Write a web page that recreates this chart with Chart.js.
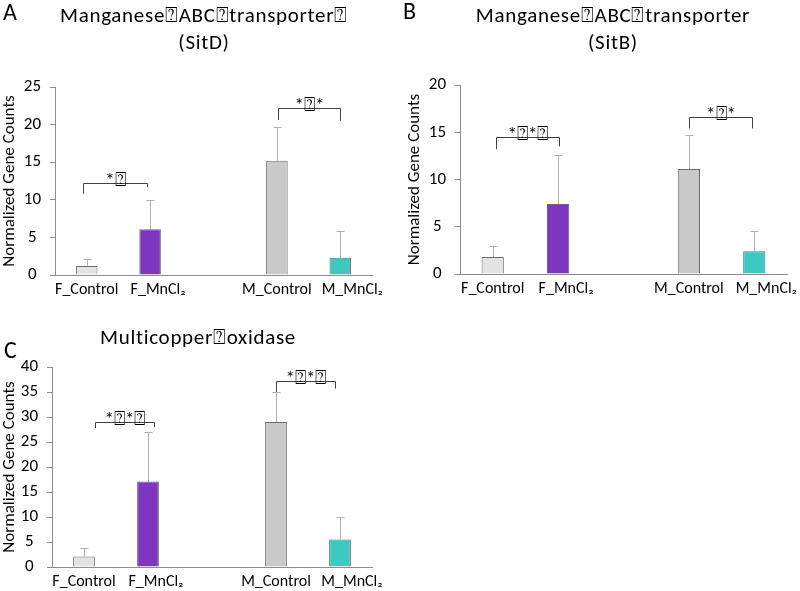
<!DOCTYPE html>
<html>
<head>
<meta charset="utf-8">
<script src="https://cdn.jsdelivr.net/npm/chart.js@4.4.1/dist/chart.umd.min.js"></script>
<style>
  body { margin: 0; background: #fff; }
  #wrap { position: relative; width: 800px; height: 591px; overflow: hidden; font-family: Carlito, Lato, sans-serif; color: #000; }
  canvas { position: absolute; left: 0; top: 0; }
  .letter { position: absolute; font-size: 24px; line-height: 1; }
  .title { position: absolute; font-size: 21px; letter-spacing: 0.7px; line-height: 27px; text-align: center; white-space: nowrap; transform: translateX(-50%); }
</style>
</head>
<body>
<div id="wrap">
  <canvas id="chartA" width="800" height="591"></canvas>
  <canvas id="chartB" width="800" height="591"></canvas>
  <canvas id="chartC" width="800" height="591"></canvas>
  <div class="letter" style="left:3px;top:0px">A</div>
  <div class="letter" style="left:403px;top:-1px">B</div>
  <div class="letter" style="left:4px;top:338px">C</div>
  <div class="title" style="left:204px;top:2px">Manganese⍰ABC⍰transporter⍰<br>(SitD)</div>
  <div class="title" style="left:613px;top:2px">Manganese⍰ABC⍰transporter<br>(SitB)</div>
  <div class="title" style="left:198px;top:324px">Multicopper⍰oxidase</div>
</div>
<script>
// shared categories (middle slot is the empty gap between sexes)
const categories = ['F_Control', 'F_MnCl₂', '', 'M_Control', 'M_MnCl₂'];
const barColors = ['#e3e3e3', '#7d36bd', 'rgba(0,0,0,0)', '#c9c9c9', '#3fc8c2'];

// A: SitD
const sitdValues = [1.2, 6.1, null, 15.2, 2.3];
const sitdErrors = [0.9, 3.9, null, 4.5, 3.5];
const sitdMax = 25;
const sitdStep = 5;
const sitdBracketFrom = [-0.06, 3.02];
const sitdBracketTo = [0.95, 4.0];
const sitdBracketLevel = [12.3, 22.2];
const sitdBracketLeft = [10.8, 20.6];
const sitdBracketRight = [11.7, 20.5];
const sitdBracketLabels = ['*⍰', '*⍰*'];

// B: SitB
const sitbValues = [1.8, 7.4, null, 11.1, 2.4];
const sitbErrors = [1.2, 5.2, null, 3.6, 2.2];
const sitbMax = 20;
const sitbStep = 5;
const sitbBracketFrom = [0.05, 3.0];
const sitbBracketTo = [1.02, 3.97];
const sitbBracketLevel = [14.5, 16.65];
const sitbBracketLeft = [13.2, 15.4];
const sitbBracketRight = [13.5, 15.4];
const sitbBracketLabels = ['*⍰*⍰', '*⍰*'];

// C: multicopper oxidase
const mcoValues = [2.1, 17.1, null, 29.0, 5.5];
const mcoErrors = [1.7, 9.9, null, 6.1, 4.6];
const mcoMax = 40;
const mcoStep = 5;
const mcoBracketFrom = [0.17, 3.0];
const mcoBracketTo = [1.09, 3.92];
const mcoBracketLevel = [29.1, 37.3];
const mcoBracketLeft = [27.8, 35.0];
const mcoBracketRight = [28.0, 35.7];
const mcoBracketLabels = ['*⍰*⍰', '*⍰*⍰'];

Chart.defaults.font.family = 'Carlito, Lato, sans-serif';
Chart.defaults.color = '#000';

// the MnCl2 labels sit a bit right of their bars in the original, nudge them with en spaces
const LABEL_INDENT = ['', '\u2002\u2002', '', '', '\u2002\u2002\u2002'];

function errorBarPlugin(values, errors) {
  return {
    id: 'errorBars',
    beforeDatasetsDraw(chart) {
      const ctx = chart.ctx;
      const yScale = chart.scales.y;
      const meta = chart.getDatasetMeta(0);
      ctx.save();
      ctx.strokeStyle = '#b0b0b0';
      ctx.lineWidth = 1;
      meta.data.forEach((bar, i) => {
        if (values[i] == null || errors[i] == null) return;
        const x = Math.round(bar.x) + 0.5;
        const y0 = yScale.getPixelForValue(values[i]);
        const y1 = Math.round(yScale.getPixelForValue(values[i] + errors[i])) + 0.5;
        ctx.beginPath();
        ctx.moveTo(x, y0);
        ctx.lineTo(x, y1);
        ctx.moveTo(x - 4, y1);
        ctx.lineTo(x + 4, y1);
        ctx.stroke();
      });
      ctx.restore();
    }
  };
}

function bracketPlugin(from, to, level, left, right, labels) {
  return {
    id: 'brackets',
    afterDatasetsDraw(chart) {
      const ctx = chart.ctx;
      const xs = chart.scales.x;
      const ys = chart.scales.y;
      ctx.save();
      ctx.strokeStyle = '#404040';
      ctx.lineWidth = 1;
      ctx.fillStyle = '#000';
      ctx.font = '19px Carlito, Lato, sans-serif';
      ctx.textAlign = 'center';
      ctx.textBaseline = 'alphabetic';
      labels.forEach((label, i) => {
        const xl = Math.round(xs.getPixelForValue(from[i])) + 0.5;
        const xr = Math.round(xs.getPixelForValue(to[i])) + 0.5;
        const yt = Math.round(ys.getPixelForValue(level[i])) + 0.5;
        ctx.beginPath();
        ctx.moveTo(xl, ys.getPixelForValue(left[i]));
        ctx.lineTo(xl, yt);
        ctx.lineTo(xr, yt);
        ctx.lineTo(xr, ys.getPixelForValue(right[i]));
        ctx.stroke();
        ctx.fillText(label, (xl + xr) / 2, yt + 2);
      });
      ctx.restore();
    }
  };
}

function makePanel(id, values, errors, max, step, padding, yWidth, xHeight, bracket) {
  return new Chart(document.getElementById(id), {
    type: 'bar',
    data: {
      labels: categories,
      datasets: [{
        data: values,
        backgroundColor: barColors,
        borderColor: '#6b6b6b',
        borderWidth: 1,
        barPercentage: 0.34,
        categoryPercentage: 1
      }]
    },
    options: {
      responsive: false,
      animation: false,
      events: [],
      layout: { padding: padding },
      plugins: {
        legend: { display: false },
        tooltip: { enabled: false }
      },
      scales: {
        x: {
          grid: { display: false },
          border: { color: '#8c8c8c' },
          ticks: {
            font: { size: 16 },
            padding: -3,
            maxRotation: 0,
            autoSkip: false,
            callback: (v, i) => LABEL_INDENT[i] + categories[i]
          },
          afterFit: s => { s.height = xHeight; }
        },
        y: {
          min: 0,
          max: max,
          ticks: { stepSize: step, font: { size: 17 }, padding: 9, crossAlign: 'center' },
          grid: { drawOnChartArea: false, tickLength: 5, color: '#8c8c8c' },
          border: { color: '#8c8c8c' },
          title: { display: true, text: 'Normalized Gene Counts', font: { size: 17 }, padding: 0 },
          afterFit: s => { s.width = yWidth; }
        }
      }
    },
    plugins: [errorBarPlugin(values, errors), bracket]
  });
}

makePanel('chartA', sitdValues, sitdErrors, sitdMax, sitdStep,
  { left: 0, top: 87, right: 428, bottom: 286 }, 55, 30,
  bracketPlugin(sitdBracketFrom, sitdBracketTo, sitdBracketLevel, sitdBracketLeft, sitdBracketRight, sitdBracketLabels));

makePanel('chartB', sitbValues, sitbErrors, sitbMax, sitbStep,
  { left: 405, top: 85, right: 13, bottom: 287 }, 55, 30,
  bracketPlugin(sitbBracketFrom, sitbBracketTo, sitbBracketLevel, sitbBracketLeft, sitbBracketRight, sitbBracketLabels));

makePanel('chartC', mcoValues, mcoErrors, mcoMax, mcoStep,
  { left: 0, top: 367, right: 428, bottom: 0 }, 52, 24,
  bracketPlugin(mcoBracketFrom, mcoBracketTo, mcoBracketLevel, mcoBracketLeft, mcoBracketRight, mcoBracketLabels));
</script>
</body>
</html>
